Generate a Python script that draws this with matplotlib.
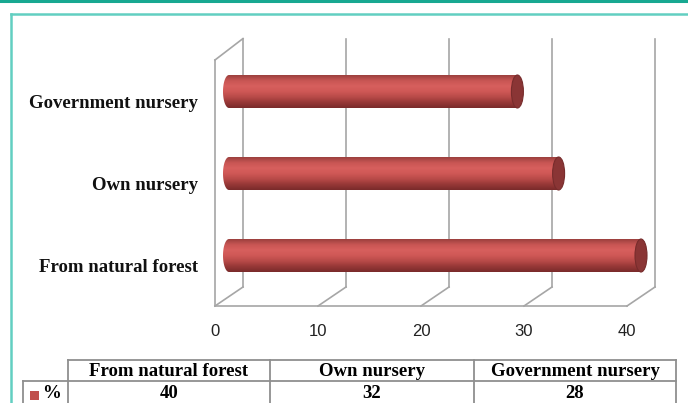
import numpy as np
import matplotlib
matplotlib.use('Agg')
import matplotlib.pyplot as plt
from matplotlib.patches import Ellipse, Polygon, Rectangle
from matplotlib.colors import LinearSegmentedColormap
from matplotlib.transforms import Affine2D


categories = ['From natural forest', 'Own nursery', 'Government nursery']
values = [40, 32, 28]
xticks = [0, 10, 20, 30, 40]
series_name = '%'

W, H = 688, 403
fig = plt.figure(figsize=(W / 100, H / 100), dpi=100)
ax = fig.add_axes([0, 0, 1, 1])
ax.axis('off')

# layout: value 0 on front plane at x=215px, 10.3 px per unit,
# one category row = 82 px, floor of front plane at y=306px
x0_px, sx = 215, 10.3
floor_px, sy = 306, 82
dx, dy = 28 / sx, 19 / sy       # depth offset of the back wall
ncat = len(categories)
top = ncat - 0.5

grid_c = '#a6a6a6'
# back wall gridlines
for v in xticks:
    ax.plot([v + dx, v + dx], [-0.5 + dy, top + dy + 0.03], color=grid_c,
            lw=1.2, zorder=1)
    # floor diagonals
    ax.plot([v, v + dx], [-0.5, -0.5 + dy], color=grid_c, lw=1.2, zorder=1)
# floor front edge and left wall
ax.plot([0, xticks[-1]], [-0.5, -0.5], color=grid_c, lw=1.2, zorder=1)
ax.plot([0, 0], [-0.5, top], color=grid_c, lw=1.2, zorder=1)
ax.plot([0, dx], [top, top + dy + 0.03], color=grid_c, lw=1.2, zorder=1)

# cylinder bars
cmap = LinearSegmentedColormap.from_list(
    'cyl', ['#9c403e', '#c95654', '#d75f5d', '#cf5856', '#b84a48',
            '#973837', '#7a2b2b'])
grad = np.linspace(0, 1, 64).reshape(-1, 1)
half_h = 16.5 / sy
cap_w = 12 / sx
for i, v in enumerate(values):
    yc = i + dy / 2
    xs = dx / 2
    xe = v + dx / 2
    t = np.linspace(np.pi / 2, 3 * np.pi / 2, 40)
    pts = np.column_stack([xs + cap_w / 2 * np.cos(t), yc + half_h * np.sin(t)])
    pts = np.vstack([pts, [[xe, yc - half_h], [xe, yc + half_h]]])
    clip = Polygon(pts, closed=True, facecolor='none', edgecolor='none')
    ax.add_patch(clip)
    im = ax.imshow(grad, extent=[xs - cap_w / 2, xe, yc - half_h, yc + half_h],
                   aspect='auto', cmap=cmap, zorder=3, interpolation='bilinear')
    im.set_clip_path(clip)
    ax.add_patch(Ellipse((xe, yc), cap_w, 2 * half_h, facecolor='#8a3535',
                         edgecolor='#772c2c', lw=0.8, zorder=4))

# tick labels
for v in xticks:
    ax.text(v, (floor_px - 331) / sy - 0.5, str(v), ha='center', va='center',
            fontsize=12, family='Liberation Sans', color='#222222')

# category labels
for i, c in enumerate(categories):
    ax.text((198 - x0_px) / sx, i - 2 / sy, c, ha='right', va='center',
            fontsize=13.5, family='Liberation Serif', weight='bold',
            color='#111111')

ax.set_xlim(-x0_px / sx, (W - x0_px) / sx)
ax.set_ylim((floor_px - H) / sy - 0.5, floor_px / sy - 0.5)

# pixel transform (origin top-left) for frame and data table
px = Affine2D().scale(1 / W, -1 / H).translate(0, 1) + fig.transFigure

# teal frame
fig.add_artist(plt.Line2D([0, W], [0.8, 0.8], transform=px, color='#17a891',
                          lw=2.2))
fig.add_artist(plt.Line2D([11, W], [14, 14], transform=px, color='#62cfc1',
                          lw=1.8))
fig.add_artist(plt.Line2D([11, 11], [14, H], transform=px, color='#62cfc1',
                          lw=1.8))

# data table
tab_c = '#8f8f8f'
cols = [68, 270, 474, 676]
r0, r1, r2 = 360, 381, 403
fig.add_artist(plt.Line2D([cols[0], cols[-1]], [r0, r0], transform=px,
                          color=tab_c, lw=1.3))
fig.add_artist(plt.Line2D([23, cols[-1]], [r1, r1], transform=px,
                          color=tab_c, lw=1.3))
for cx in cols:
    fig.add_artist(plt.Line2D([cx, cx], [r0, r2], transform=px,
                              color=tab_c, lw=1.3))
fig.add_artist(plt.Line2D([23, 23], [r1, r2], transform=px, color=tab_c,
                          lw=1.3))
for j, (c, v) in enumerate(zip(categories, values)):
    xm = (cols[j] + cols[j + 1]) / 2
    fig.text(xm, (r0 + r1) / 2 + 1, c, transform=px, ha='center', va='center',
             fontsize=13.5, family='Liberation Serif', weight='bold')
    fig.text(xm, (r1 + r2) / 2 + 1, str(v), transform=px, ha='center',
             va='center', fontsize=13.5, family='Liberation Serif',
             weight='bold')
fig.add_artist(Rectangle((30, 391), 9, 9, transform=px, facecolor='#c0504d',
                         edgecolor='none'))
fig.text(42, (r1 + r2) / 2 + 1, series_name, transform=px, ha='left',
         va='center', fontsize=13.5, family='Liberation Serif', weight='bold')

fig.savefig('out.png', dpi=100)
